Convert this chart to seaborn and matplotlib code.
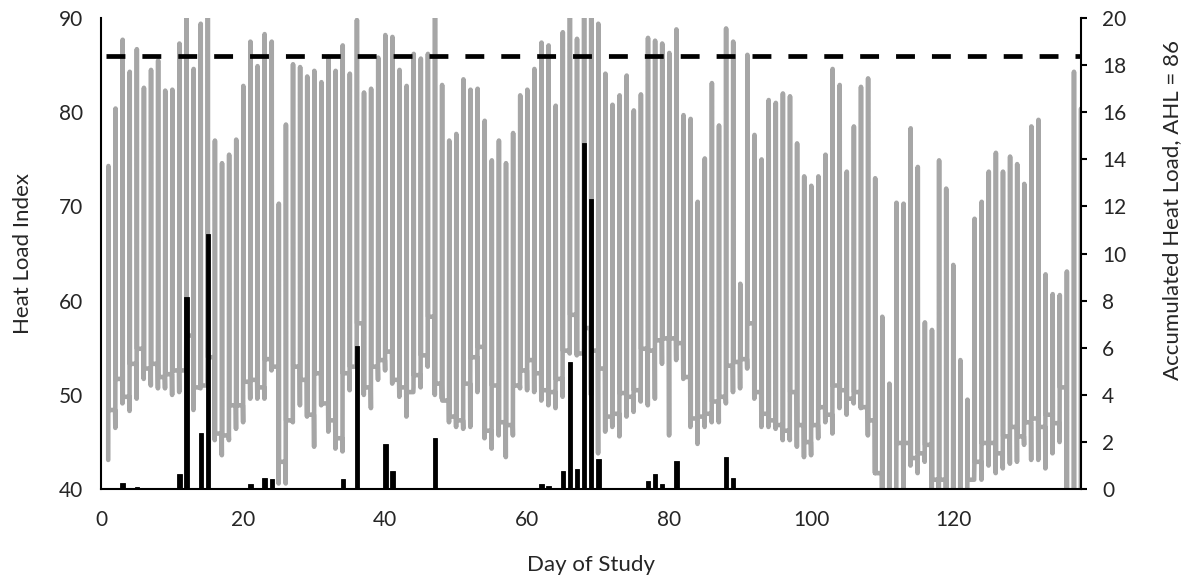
import matplotlib
matplotlib.use('Agg')
from matplotlib import pyplot as plt
import seaborn as sns
import pandas as pd

sns.set_theme(style='white')
plt.rcParams['font.family'] = ['Lato', 'DejaVu Sans']

# daily maximum of the hourly Heat Load Index (the top of each grey stroke)
HLI_HIGH = [
    74.3, 80.4, 87.7, 84.3, 86.7, 82.6, 84.5, 85.5, 82.3, 82.4,
    87.3, 91.0, 84.6, 89.4, 91.0, 77.0, 74.6, 75.5, 77.1, 82.8,
    87.5, 84.9, 88.3, 87.5, 70.3, 78.7, 85.1, 84.8, 83.8, 84.4,
    83.2, 85.9, 84.4, 87.1, 84.1, 89.8, 82.1, 82.5, 85.8, 88.2,
    88.0, 84.5, 82.8, 86.2, 85.7, 86.2, 90.5, 82.9, 77.0, 77.7,
    83.5, 82.4, 82.5, 79.1, 74.9, 77.0, 74.6, 77.8, 81.8, 82.4,
    84.6, 87.4, 87.1, 80.7, 88.5, 91.0, 87.8, 91.0, 90.5, 89.4,
    84.1, 80.8, 81.8, 83.9, 80.2, 81.9, 87.9, 87.6, 87.3, 86.3,
    88.8, 79.7, 79.3, 70.5, 75.1, 83.1, 78.6, 88.9, 87.5, 61.8,
    86.1, 77.6, 75.0, 81.3, 81.0, 82.0, 81.7, 76.7, 73.2, 72.2,
    73.2, 75.5, 84.6, 82.9, 73.7, 78.5, 82.7, 83.6, 73.0, 58.3,
    51.2, 70.4, 70.3, 78.3, 74.2, 57.7, 56.9, 74.9, 71.9, 63.8,
    53.7, 49.5, 68.7, 70.5, 73.7, 75.7, 73.7, 75.3, 74.5, 72.4,
    78.5, 79.2, 62.8, 60.7, 60.6, 63.1, 84.3, 80.4,
]

# daily minimum (bottom of each grey stroke)
HLI_LOW = [
    43.1, 46.5, 49.1, 48.3, 49.6, 51.7, 51.0, 50.7, 50.7, 50.0,
    50.3, 56.0, 48.4, 50.7, 56.0, 45.2, 43.6, 45.2, 46.4, 47.1,
    49.6, 49.6, 49.6, 52.6, 40.6, 40.6, 47.1, 48.9, 47.7, 44.5,
    48.9, 46.1, 44.3, 44.0, 50.5, 56.0, 50.0, 48.6, 51.6, 52.6,
    51.2, 49.8, 47.7, 50.8, 50.8, 53.0, 50.0, 49.6, 47.1, 46.6,
    46.4, 46.6, 50.3, 45.4, 44.3, 45.7, 43.4, 45.7, 50.7, 50.5,
    50.3, 49.4, 48.9, 48.6, 49.8, 54.4, 54.2, 55.0, 50.0, 43.8,
    46.1, 46.6, 45.6, 47.7, 48.2, 49.3, 48.9, 49.6, 53.3, 45.7,
    53.7, 51.7, 46.6, 44.8, 46.6, 47.1, 47.1, 49.1, 50.3, 50.7,
    52.8, 49.6, 46.6, 46.6, 46.4, 45.2, 45.2, 44.5, 43.4, 43.6,
    45.4, 47.1, 45.9, 48.6, 47.9, 49.1, 48.6, 45.7, 41.7, 38.0,
    38.0, 38.0, 38.0, 42.5, 41.7, 42.9, 38.0, 38.0, 38.0, 38.0,
    38.0, 38.0, 42.7, 41.0, 42.5, 41.7, 42.2, 42.7, 42.9, 44.7,
    43.1, 43.1, 42.2, 43.8, 45.0, 38.0, 38.0, 38.0,
]

# overnight level, the short flat step that joins one day to the next
HLI_NIGHT = [
    48.4, 51.7, 49.8, 53.3, 54.9, 52.8, 53.3, 51.9, 52.2, 52.6,
    52.6, 56.3, 50.8, 51.0, 54.0, 45.9, 45.7, 48.9, 48.9, 51.4,
    51.6, 50.8, 53.8, 53.0, 42.9, 47.3, 53.0, 51.6, 47.9, 52.3,
    49.1, 47.3, 45.4, 52.3, 53.0, 57.6, 50.8, 53.0, 53.7, 54.6,
    51.6, 50.8, 50.3, 52.1, 54.2, 58.3, 51.2, 49.4, 47.7, 47.3,
    51.2, 54.0, 55.1, 46.2, 51.0, 47.1, 46.8, 51.0, 52.6, 53.7,
    52.3, 50.5, 50.3, 51.7, 54.7, 58.5, 54.4, 57.1, 54.7, 52.8,
    47.7, 48.0, 50.2, 49.8, 50.5, 54.9, 54.7, 55.8, 56.0, 56.0,
    55.5, 51.9, 47.5, 47.7, 48.0, 49.3, 49.8, 53.1, 53.5, 53.8,
    57.6, 50.3, 48.0, 47.3, 46.8, 46.2, 50.3, 46.8, 45.0, 46.8,
    48.7, 47.9, 51.0, 50.5, 49.6, 50.3, 48.7, 47.3, 41.7, 39.0,
    39.0, 44.9, 44.9, 43.3, 43.8, 44.7, 41.0, 41.0, 39.0, 39.0,
    39.0, 41.0, 42.9, 44.9, 44.9, 43.8, 45.6, 46.6, 45.6, 47.1,
    47.5, 46.6, 47.9, 47.0, 50.8, 39.0, 39.0, 39.0,
]

AHL_DAYS = [3, 5, 11, 12, 14, 15, 21, 23, 24, 34, 36, 40, 41, 47,
            62, 63, 65, 66, 67, 68, 69, 70, 77, 78, 79, 81, 88, 89]
AHL_VALUES = [0.25, 0.1, 0.63, 8.17, 2.4, 10.84, 0.2, 0.47, 0.43, 0.41,
              6.09, 1.9, 0.77, 2.16, 0.2, 0.14, 0.77, 5.4, 0.84, 14.7,
              12.3, 1.26, 0.34, 0.63, 0.2, 1.2, 1.36, 0.48]

THRESHOLD = 86
N_DAYS = len(HLI_HIGH)
TEXT = '#262626'

# trace each day: morning low -> afternoon peak -> night level, held until next morning
xs, ys = [], []
for i in range(N_DAYS):
    d = i + 1
    xs += [d - 0.03, d, d + 0.03]
    ys += [HLI_LOW[i], HLI_HIGH[i], HLI_NIGHT[i]]
    if i < N_DAYS - 1:
        xs.append(d + 0.94)
        ys.append(HLI_NIGHT[i])
hli = pd.DataFrame({'day': xs, 'hli': ys})

fig = plt.figure(figsize=(11.88, 5.83), dpi=100)
ax = fig.add_axes([0.0853, 0.161, 0.8247, 0.808])

sns.lineplot(data=hli, x='day', y='hli', sort=False, estimator=None,
             color='#a6a6a6', linewidth=3.3, ax=ax,
             solid_joinstyle='round', solid_capstyle='round')
ax.plot([0.65, N_DAYS], [THRESHOLD, THRESHOLD], color='black', linewidth=3.4,
        dashes=(4.0, 3.6), solid_capstyle='butt', zorder=3)

ax.set_xlim(0, N_DAYS)
ax.set_ylim(40, 90)
ax.set_xticks(range(0, 121, 20))
ax.set_yticks(range(40, 91, 10))
ax.set_xlabel('Day of Study', fontsize=16, color=TEXT, labelpad=18)
ax.set_ylabel('Heat Load Index', fontsize=16, color=TEXT, labelpad=19)
ax.tick_params(axis='both', length=0, labelsize=15, labelcolor=TEXT)
ax.tick_params(axis='x', pad=15)
ax.tick_params(axis='y', pad=13)

ax2 = ax.twinx()
ax2.bar(AHL_DAYS, AHL_VALUES, width=0.62, color='black', edgecolor='black',
        linewidth=0.6, zorder=4)
ax2.set_ylim(0, 20)
ax2.set_yticks(range(0, 21, 2))
ax2.tick_params(axis='y', direction='out', length=4, width=1.5, color='black',
                labelsize=15, labelcolor=TEXT, pad=11, right=True)
fig.text(1172 / 1188, 1 - 210 / 583, 'Accumulated Heat Load, AHL = 86',
         rotation=90, ha='center', va='center', fontsize=16, color=TEXT)

for a in (ax, ax2):
    for s in a.spines.values():
        s.set_visible(False)
ax.spines['left'].set_visible(True)
ax.spines['bottom'].set_visible(True)
ax2.spines['right'].set_visible(True)
for s in (ax.spines['left'], ax.spines['bottom'], ax2.spines['right']):
    s.set_color('black')
    s.set_linewidth(1.5)

fig.savefig('out.png', dpi=100)
